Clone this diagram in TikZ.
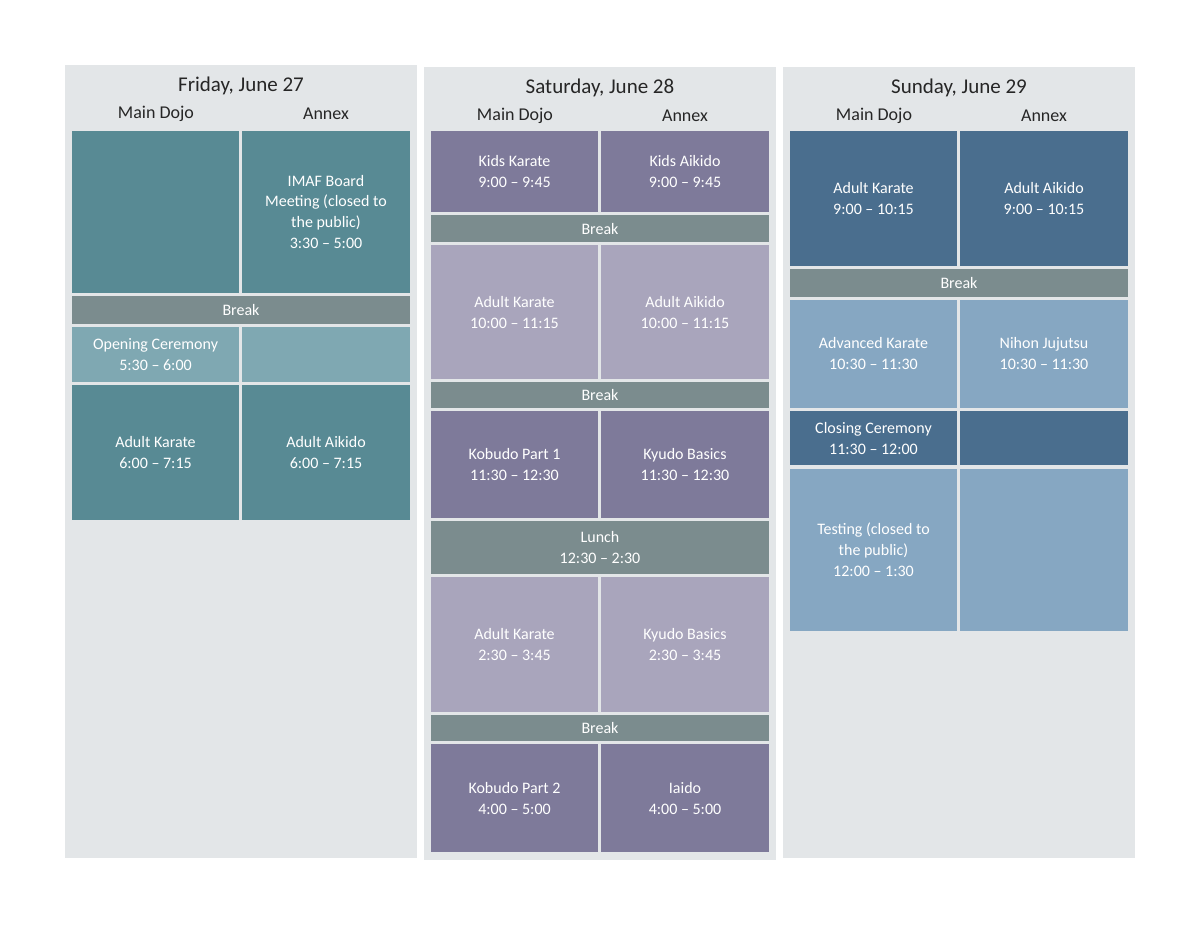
\documentclass[tikz,border=0pt]{standalone}
\usepackage{fontspec}
\setmainfont{Carlito}
\definecolor{panel}{HTML}{E3E6E8}
\definecolor{fteal}{HTML}{588A94}
\definecolor{fteall}{HTML}{7FA8B2}
\definecolor{brk}{HTML}{7B8C8E}
\definecolor{sdark}{HTML}{7E7A9A}
\definecolor{slight}{HTML}{A9A5BC}
\definecolor{udark}{HTML}{4A6E8E}
\definecolor{ulight}{HTML}{86A7C2}
\tikzset{cellbox/.style={fill=#1,draw=none,text=white,align=center,font=\fontsize{8}{10.5}\selectfont,inner sep=0pt}}
\newcommand{\cellx}[7]{\fill[#6] (#2,#3) rectangle (#4,#5);
 \node[cellbox=#6] (#1) at ({(#2+#4)/2},{(#3+#5)/2}) {#7};}
\begin{document}
\begin{tikzpicture}[x=0.5pt,y=-0.5pt]
\useasboundingbox (0,0) rectangle (1200,927);
\fill[white] (0,0) rectangle (1200,927);
% panels
\fill[panel] (65,65) rectangle (417,858);
\fill[panel] (424,67) rectangle (776,860);
\fill[panel] (783,67) rectangle (1135,858);
\tikzset{hd/.style={font=\fontsize{10.5}{12}\selectfont,text=black!85},sub/.style={font=\fontsize{9}{11}\selectfont,text=black!85}}
\node[hd] (fh) at (241,86) {Friday, June 27};
\node[sub] (fm) at (156,114) {Main Dojo};
\node[sub] (fa) at (326,114) {Annex};
\node[hd] (sh) at (600,88) {Saturday, June 28};
\node[sub] (sm) at (515,116) {Main Dojo};
\node[sub] (sa) at (685,116) {Annex};
\node[hd] (uh) at (959,88) {Sunday, June 29};
\node[sub] (um) at (874,116) {Main Dojo};
\node[sub] (ua) at (1044,116) {Annex};
% Friday
\cellx{f1}{72}{131}{239}{293}{fteal}{}
\cellx{f2}{242}{131}{410}{293}{fteal}{IMAF Board\\Meeting (closed to\\the public)\\3:30 -- 5:00}
\cellx{f3}{72}{296}{410}{324}{brk}{Break}
\cellx{f4}{72}{327}{239}{382}{fteall}{Opening Ceremony\\5:30 -- 6:00}
\cellx{f5}{242}{327}{410}{382}{fteall}{}
\cellx{f6}{72}{385}{239}{520}{fteal}{Adult Karate\\6:00 -- 7:15}
\cellx{f7}{242}{385}{410}{520}{fteal}{Adult Aikido\\6:00 -- 7:15}
% Saturday
\cellx{s1}{431}{131}{598}{212}{sdark}{Kids Karate\\9:00 -- 9:45}
\cellx{s2}{601}{131}{769}{212}{sdark}{Kids Aikido\\9:00 -- 9:45}
\cellx{s3}{431}{215}{769}{242}{brk}{Break}
\cellx{s4}{431}{245}{598}{379}{slight}{Adult Karate\\10:00 -- 11:15}
\cellx{s5}{601}{245}{769}{379}{slight}{Adult Aikido\\10:00 -- 11:15}
\cellx{s6}{431}{382}{769}{408}{brk}{Break}
\cellx{s7}{431}{411}{598}{518}{sdark}{Kobudo Part 1\\11:30 -- 12:30}
\cellx{s8}{601}{411}{769}{518}{sdark}{Kyudo Basics\\11:30 -- 12:30}
\cellx{s9}{431}{521}{769}{574}{brk}{Lunch\\12:30 -- 2:30}
\cellx{s10}{431}{577}{598}{712}{slight}{Adult Karate\\2:30 -- 3:45}
\cellx{s11}{601}{577}{769}{712}{slight}{Kyudo Basics\\2:30 -- 3:45}
\cellx{s12}{431}{715}{769}{741}{brk}{Break}
\cellx{s13}{431}{744}{598}{852}{sdark}{Kobudo Part 2\\4:00 -- 5:00}
\cellx{s14}{601}{744}{769}{852}{sdark}{Iaido\\4:00 -- 5:00}
% Sunday
\cellx{u1}{790}{131}{957}{266}{udark}{Adult Karate\\9:00 -- 10:15}
\cellx{u2}{960}{131}{1128}{266}{udark}{Adult Aikido\\9:00 -- 10:15}
\cellx{u3}{790}{269}{1128}{297}{brk}{Break}
\cellx{u4}{790}{300}{957}{408}{ulight}{Advanced Karate\\10:30 -- 11:30}
\cellx{u5}{960}{300}{1128}{408}{ulight}{Nihon Jujutsu\\10:30 -- 11:30}
\cellx{u6}{790}{411}{957}{465}{udark}{Closing Ceremony\\11:30 -- 12:00}
\cellx{u7}{960}{411}{1128}{465}{udark}{}
\cellx{u8}{790}{469}{957}{631}{ulight}{Testing (closed to\\the public)\\12:00 -- 1:30}
\cellx{u9}{960}{469}{1128}{631}{ulight}{}
\end{tikzpicture}
\end{document}
